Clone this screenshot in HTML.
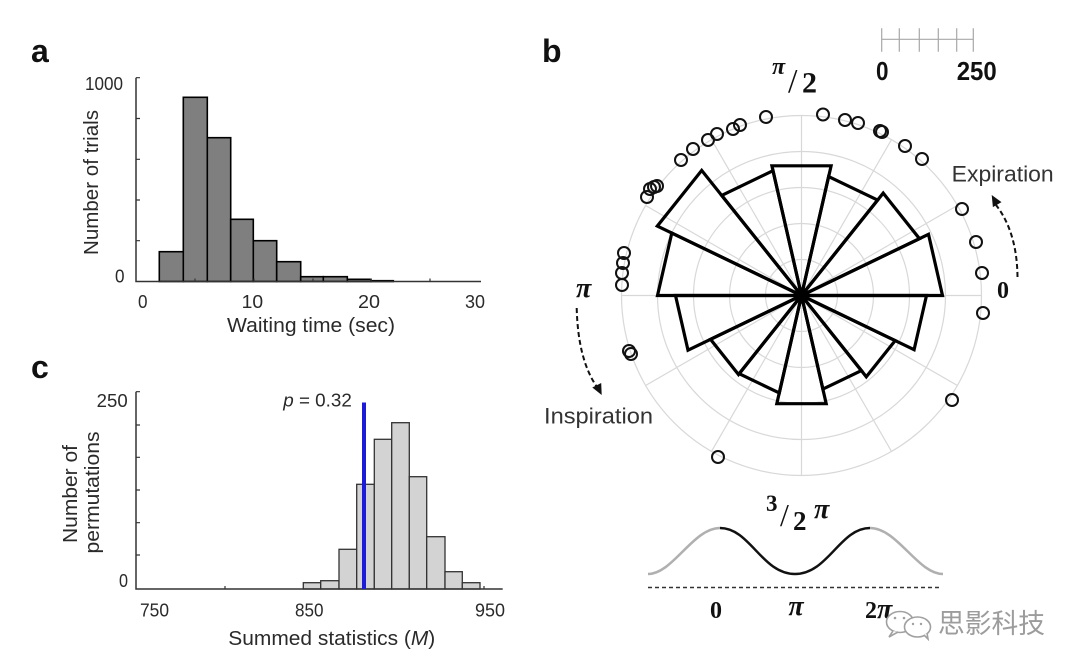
<!DOCTYPE html>
<html><head><meta charset="utf-8"><style>
html,body{margin:0;padding:0;background:#fff;}
svg{display:block;}
</style></head><body>
<svg width="1080" height="671" viewBox="0 0 1080 671" xmlns="http://www.w3.org/2000/svg">
<rect width="1080" height="671" fill="#fff"/>

<!-- Panel labels -->
<g font-family="Liberation Sans, Arial, sans-serif" font-weight="bold" fill="#111" font-size="32">
<text x="31" y="62">a</text>
<text x="542" y="62">b</text>
<text x="31" y="378">c</text>
</g>

<!-- ===== Panel a ===== -->
<g stroke="#000" stroke-width="1.6" fill="#7f7f7f">
<rect x="159.3" y="251.7" width="24" height="29.8"/>
<rect x="183.3" y="97.3" width="24" height="184.2"/>
<rect x="207.3" y="137.7" width="23.4" height="143.8"/>
<rect x="230.7" y="219.3" width="22.6" height="62.2"/>
<rect x="253.3" y="240.7" width="23.4" height="40.8"/>
<rect x="276.7" y="261.7" width="24" height="19.8"/>
<rect x="300.7" y="276.7" width="22.6" height="4.8"/>
<rect x="323.3" y="276.7" width="24" height="4.8"/>
<rect x="347.3" y="279.3" width="23.7" height="2.2"/>
<rect x="371" y="280.7" width="22.3" height="0.8"/>
</g>
<path d="M136,77.7 V281.5 H481" fill="none" stroke="#333" stroke-width="1.5"/>
<path d="M136,77.7h4 M136,118.5h4 M136,159.3h4 M136,200h4 M136,240.7h4 M195,281.5v-3 M254,281.5v-3 M313,281.5v-3 M371,281.5v-3 M430,281.5v-3" stroke="#333" stroke-width="1.2"/>
<g font-family="Liberation Sans, Arial, sans-serif" fill="#2a2a2a" font-size="18">
<text x="85" y="90" textLength="38" lengthAdjust="spacingAndGlyphs">1000</text>
<text x="115" y="282.5" textLength="9.5" lengthAdjust="spacingAndGlyphs">0</text>
<text x="138" y="308" textLength="9.5" lengthAdjust="spacingAndGlyphs">0</text>
<text x="241.7" y="308" textLength="21.5" lengthAdjust="spacingAndGlyphs">10</text>
<text x="358" y="308" textLength="22" lengthAdjust="spacingAndGlyphs">20</text>
<text x="465" y="308" textLength="20" lengthAdjust="spacingAndGlyphs">30</text>
</g>
<g font-family="Liberation Sans, Arial, sans-serif" fill="#2a2a2a" font-size="20">
<text x="227" y="332" textLength="168" lengthAdjust="spacingAndGlyphs">Waiting time (sec)</text>
<text transform="translate(98,182.5) rotate(-90)" x="-72.5" y="0" textLength="145" lengthAdjust="spacingAndGlyphs">Number of trials</text>
</g>

<!-- ===== Panel c ===== -->
<g stroke="#333" stroke-width="1.3" fill="#d3d3d3">
<rect x="303.3" y="582.7" width="17.4" height="6.3"/>
<rect x="320.7" y="580.7" width="18.3" height="8.3"/>
<rect x="339" y="549.3" width="17.7" height="39.7"/>
<rect x="356.7" y="484.3" width="17.6" height="104.7"/>
<rect x="374.3" y="439.3" width="17.4" height="149.7"/>
<rect x="391.7" y="422.7" width="17.6" height="166.3"/>
<rect x="409.3" y="476.7" width="17.4" height="112.3"/>
<rect x="426.7" y="536.7" width="18.3" height="52.3"/>
<rect x="445" y="571.7" width="17.3" height="17.3"/>
<rect x="462.3" y="582.7" width="17.7" height="6.3"/>
</g>
<path d="M136,391.7 V589 H502.7" fill="none" stroke="#333" stroke-width="1.5"/>
<path d="M136,391.7h4 M136,425h4 M136,457.3h4 M136,490h4 M136,522.7h4 M136,555h4 M225,589v-3 M484,589v-3" stroke="#333" stroke-width="1.2"/>
<line x1="364" y1="402.5" x2="364" y2="589" stroke="#1d1ad8" stroke-width="4"/>
<g font-family="Liberation Sans, Arial, sans-serif" fill="#2a2a2a" font-size="18">
<text x="96.7" y="407" textLength="31" lengthAdjust="spacingAndGlyphs">250</text>
<text x="119" y="587" textLength="9" lengthAdjust="spacingAndGlyphs">0</text>
<text x="140" y="616.5" textLength="29" lengthAdjust="spacingAndGlyphs">750</text>
<text x="295" y="616.5" textLength="28.5" lengthAdjust="spacingAndGlyphs">850</text>
<text x="475" y="616.5" textLength="30" lengthAdjust="spacingAndGlyphs">950</text>
<text x="283.3" y="406.5" textLength="68.5" lengthAdjust="spacingAndGlyphs"><tspan font-style="italic">p</tspan> = 0.32</text>
</g>
<g font-family="Liberation Sans, Arial, sans-serif" fill="#2a2a2a" font-size="20">
<text x="228.3" y="645" textLength="207" lengthAdjust="spacingAndGlyphs">Summed statistics (<tspan font-style="italic">M</tspan>)</text>
<text transform="translate(77,494) rotate(-90)" x="-49" y="0" textLength="98" lengthAdjust="spacingAndGlyphs">Number of</text>
<text transform="translate(99,492.5) rotate(-90)" x="-61" y="0" textLength="122" lengthAdjust="spacingAndGlyphs">permutations</text>
</g>

<!-- ===== Panel b: polar ===== -->
<g fill="none" stroke="#d8d8d8" stroke-width="1.2">
<circle cx="801.5" cy="295.5" r="36"/>
<circle cx="801.5" cy="295.5" r="72"/>
<circle cx="801.5" cy="295.5" r="108"/>
<circle cx="801.5" cy="295.5" r="144"/>
<circle cx="801.5" cy="295.5" r="180"/>
<path d="M801.5,295.5 L981.5,295.5 M801.5,295.5 L957.4,205.5 M801.5,295.5 L891.5,139.6 M801.5,295.5 L801.5,115.5 M801.5,295.5 L711.5,139.6 M801.5,295.5 L645.6,205.5 M801.5,295.5 L621.5,295.5 M801.5,295.5 L645.6,385.5 M801.5,295.5 L711.5,451.4 M801.5,295.5 L801.5,475.5 M801.5,295.5 L891.5,451.4 M801.5,295.5 L957.4,385.5"/>
</g>
<g fill="none" stroke="#000" stroke-width="3.2" stroke-linejoin="miter">
<polygon points="801.5,295.5 942.5,295.5 928.5,234.3"/>
<polygon points="801.5,295.5 919.5,238.7 883.2,193.1"/>
<polygon points="801.5,295.5 877.6,200.1 828.6,176.6"/>
<polygon points="801.5,295.5 831.1,165.8 771.9,165.8"/>
<polygon points="801.5,295.5 773.0,170.7 721.7,195.4"/>
<polygon points="801.5,295.5 701.7,170.4 657.3,226.1"/>
<polygon points="801.5,295.5 671.8,233.0 657.5,295.5"/>
<polygon points="801.5,295.5 675.5,295.5 688.0,350.2"/>
<polygon points="801.5,295.5 710.5,339.3 738.5,374.5"/>
<polygon points="801.5,295.5 739.2,373.7 779.3,393.0"/>
<polygon points="801.5,295.5 776.8,403.7 826.2,403.7"/>
<polygon points="801.5,295.5 822.9,389.1 861.4,370.6"/>
<polygon points="801.5,295.5 866.3,376.8 895.2,340.6"/>
<polygon points="801.5,295.5 914.1,349.7 926.5,295.5"/>
</g>
<circle cx="801.5" cy="295.5" r="7" fill="#000"/>

<!-- scatter circles -->
<g fill="none" stroke="#111" stroke-width="2">
<circle cx="766" cy="117" r="6"/>
<circle cx="823" cy="114.5" r="6"/>
<circle cx="845" cy="120" r="6"/>
<circle cx="858" cy="123" r="6"/>
<circle cx="880" cy="131" r="6"/>
<circle cx="882" cy="132" r="6"/>
<circle cx="905" cy="146" r="6"/>
<circle cx="922" cy="159" r="6"/>
<circle cx="962" cy="209" r="6"/>
<circle cx="976" cy="242" r="6"/>
<circle cx="982" cy="273" r="6"/>
<circle cx="983" cy="313" r="6"/>
<circle cx="952" cy="400" r="6"/>
<circle cx="718" cy="457" r="6"/>
<circle cx="629" cy="351" r="6"/>
<circle cx="631" cy="354" r="6"/>
<circle cx="622" cy="285" r="6"/>
<circle cx="622" cy="273" r="6"/>
<circle cx="623" cy="263" r="6"/>
<circle cx="624" cy="253" r="6"/>
<circle cx="650" cy="189" r="6"/>
<circle cx="654" cy="187" r="6"/>
<circle cx="657" cy="186" r="6"/>
<circle cx="647" cy="197" r="6"/>
<circle cx="681" cy="160" r="6"/>
<circle cx="693" cy="149" r="6"/>
<circle cx="708" cy="140" r="6"/>
<circle cx="717" cy="134" r="6"/>
<circle cx="733" cy="129" r="6"/>
<circle cx="740" cy="125" r="6"/>
</g>

<!-- scale bar -->
<g stroke="#a8a8a8" stroke-width="1.2">
<line x1="881.7" y1="39.3" x2="973.3" y2="39.3"/>
<path d="M881.7,28.3V51.7 M899.3,28.3V51.7 M919.3,28.3V51.7 M938.3,28.3V51.7 M956.7,28.3V51.7 M973.3,28.3V51.7"/>
</g>
<g font-family="Liberation Sans, Arial, sans-serif" font-weight="bold" fill="#111" font-size="26">
<text x="876" y="80" textLength="12.5" lengthAdjust="spacingAndGlyphs">0</text>
<text x="956.7" y="80" textLength="40" lengthAdjust="spacingAndGlyphs">250</text>
</g>

<!-- polar labels -->
<g font-family="Liberation Serif, serif" fill="#111">
<text x="772" y="74" font-size="24" font-weight="bold" font-style="italic">π</text>
<text x="788" y="92" font-size="34">/</text>
<text x="802" y="92.5" font-size="30" font-weight="bold">2</text>
<text x="997" y="298" font-size="24" font-weight="bold">0</text>
<text x="576" y="297" font-size="28" font-weight="bold" font-style="italic">π</text>
<text x="766" y="511" font-size="23" font-weight="bold">3</text>
<text x="780" y="526" font-size="32">/</text>
<text x="793" y="530" font-size="27" font-weight="bold">2</text>
<text x="814" y="518" font-size="28" font-weight="bold" font-style="italic">π</text>
</g>
<g font-family="Liberation Sans, DejaVu Sans, sans-serif" fill="#333" font-size="22">
<text x="951.7" y="181.5" textLength="102" lengthAdjust="spacingAndGlyphs">Expiration</text>
<text x="544" y="423.3" textLength="109" lengthAdjust="spacingAndGlyphs">Inspiration</text>
</g>

<!-- dashed arrows -->
<g fill="none" stroke="#111" stroke-width="2" stroke-dasharray="5,3">
<path d="M1017.5,277 Q1017,232 996,205"/>
<path d="M576.7,308 Q578,360 597,387"/>
</g>
<polygon points="991.7,195 1001.5,202.1 992.9,207.1" fill="#111"/>
<polygon points="601.7,395 601.2,383 592.3,387.5" fill="#111"/>

<!-- waveform -->
<g fill="none" stroke-width="2.5">
<path d="M648,574 C673,574 693,528 720,528" stroke="#b0b0b0"/>
<path d="M870,528 C897.3,528 917.7,574 943,574" stroke="#b0b0b0"/>
<path d="M720,528 C750,528 762,574 795,574 C828,574 840,528 870,528" stroke="#111"/>
</g>
<line x1="648" y1="587.5" x2="942" y2="587.5" stroke="#333" stroke-width="1.5" stroke-dasharray="4,3"/>
<g font-family="Liberation Serif, serif" fill="#111" font-weight="bold">
<text x="716" y="618" font-size="24" text-anchor="middle">0</text>
<text x="796" y="615" font-size="28" font-style="italic" text-anchor="middle">π</text>
<text x="865" y="618" font-size="24">2<tspan font-size="28" font-style="italic">π</tspan></text>
</g>

<!-- watermark -->
<g stroke="#a0a0a0" stroke-width="1.6" fill="#fff">
<ellipse cx="900" cy="622" rx="13.5" ry="10.5"/>
<path d="M893,631 L889,637 L898,632" />
<ellipse cx="917.5" cy="627" rx="13" ry="10"/>
<path d="M924,635 L928,639 L927,633"/>
</g>
<g fill="#a0a0a0">
<circle cx="895" cy="618" r="1.3"/>
<circle cx="904" cy="618" r="1.3"/>
<circle cx="913" cy="624" r="1.2"/>
<circle cx="921" cy="624" r="1.2"/>
</g>
<text x="938" y="633" font-family="Liberation Sans, Noto Sans CJK SC, sans-serif" font-size="27" fill="#9c9c9c" textLength="107" lengthAdjust="spacingAndGlyphs">思影科技</text>
</svg>
</body></html>
